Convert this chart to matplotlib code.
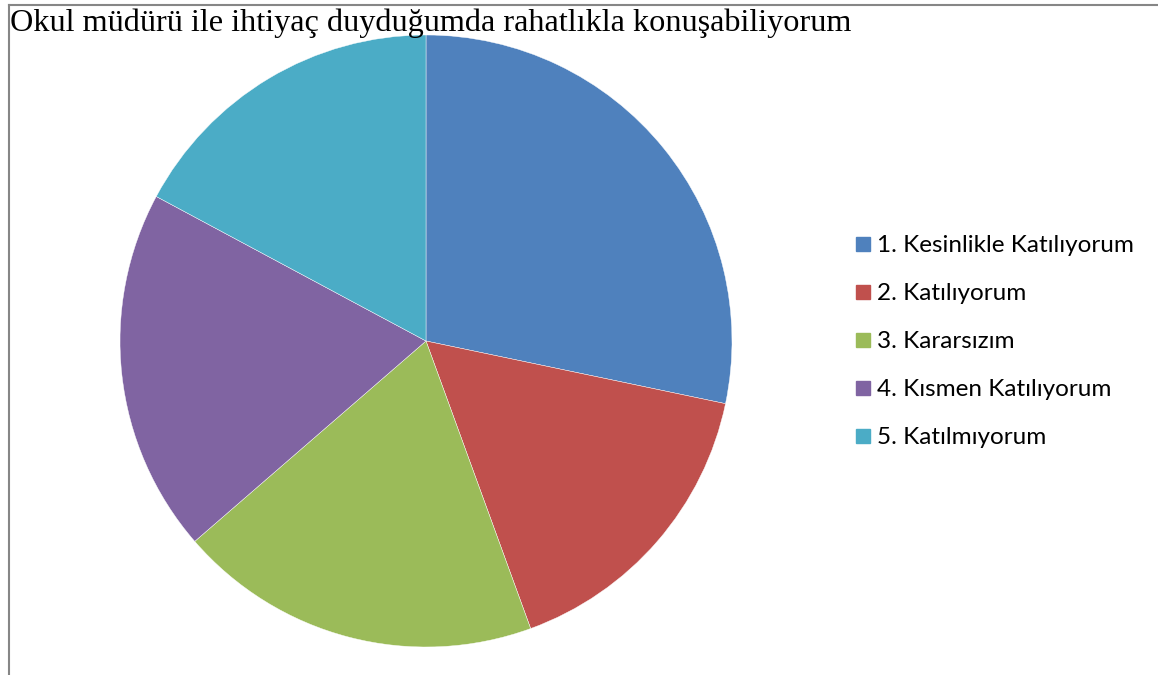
import matplotlib.pyplot as plt
from matplotlib.lines import Line2D
from matplotlib.patches import Rectangle

title = "Okul müdürü ile ihtiyaç duyduğumda rahatlıkla konuşabiliyorum"
labels = ["1. Kesinlikle Katılıyorum", "2. Katılıyorum", "3. Kararsızım",
          "4. Kısmen Katılıyorum", "5. Katılmıyorum"]
values = [28, 16, 19, 19, 17]
colors = ["#4F81BD", "#C0504D", "#9BBB59", "#8064A2", "#4BACC6"]

W, H = 1158, 675
fig = plt.figure(figsize=(W / 100, H / 100), dpi=100)

# Rahmen (oben und links)
fig.add_artist(Line2D([8.5 / W, 1], [1 - 4.5 / H, 1 - 4.5 / H], color="#868686", lw=1.5))
fig.add_artist(Line2D([8.5 / W, 8.5 / W], [0, 1 - 4.5 / H], color="#868686", lw=1.5))

# Kreisdiagramm
cx, cy, r = 426, 341, 306
ax = fig.add_axes([(cx - r) / W, (H - cy - r) / H, 2 * r / W, 2 * r / H])
ax.pie(values, colors=colors, startangle=90, counterclock=False,
       wedgeprops=dict(edgecolor="white", linewidth=0.3))
ax.set_xlim(-1, 1)
ax.set_ylim(-1, 1)
ax.set_aspect("equal")
ax.axis("off")

fig.text(10 / W, 1 - 23 / H, title, fontsize=23.2, family="Liberation Serif",
         ha="left", va="center", color="black")

# Legende
y0, dy = 245, 48
for i, (lab, col) in enumerate(zip(labels, colors)):
    y = y0 + i * dy
    fig.add_artist(Rectangle((856 / W, 1 - (y + 6) / H), 14 / W, 14 / H,
                             transform=fig.transFigure, color=col))
    fig.text(877 / W, 1 - y / H, lab, fontsize=17.5, family="Lato",
             ha="left", va="center", color="black")

fig.savefig("out.png", dpi=100, facecolor="white")
